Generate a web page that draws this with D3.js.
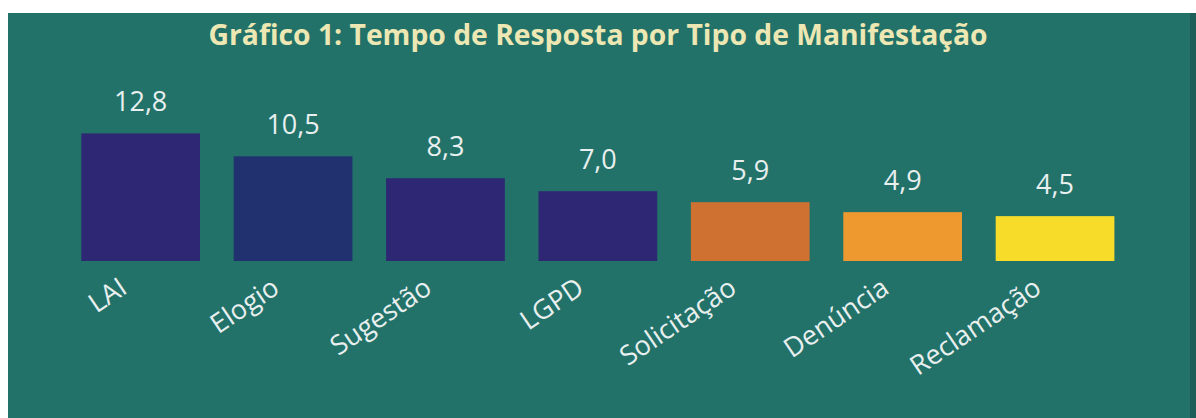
<!DOCTYPE html>
<html>
<head>
<meta charset="utf-8">
<script src="https://cdn.jsdelivr.net/npm/d3@7/dist/d3.min.js"></script>
<style>
  html, body { margin: 0; padding: 0; background: #ffffff; }
  svg { display: block; }
</style>
</head>
<body>
<svg id="chart" width="1196" height="418"></svg>
<script>
const title = "Gráfico 1: Tempo de Resposta por Tipo de Manifestação";
const categories = ["LAI", "Elogio", "Sugestão", "LGPD", "Solicitação", "Denúncia", "Reclamação"];
const values = [12.8, 10.5, 8.3, 7.0, 5.9, 4.9, 4.5];
const barColors = ["#2E2774", "#21306F", "#2E2774", "#2E2774", "#CF7130", "#EE9830", "#F7DD2A"];

const W = 1196, H = 418;
const svg = d3.select("#chart");

// panel background
svg.append("rect").attr("x", 8).attr("y", 13).attr("width", 1182).attr("height", H - 13).attr("fill", "#22726A");
svg.append("rect").attr("x", 1190).attr("y", 13).attr("width", 6).attr("height", H - 13).attr("fill", "#1D5F58");

// title
svg.append("text")
  .attr("x", 598).attr("y", 45)
  .attr("text-anchor", "middle")
  .attr("font-family", "'Open Sans', 'Noto Sans', sans-serif")
  .attr("font-weight", "bold")
  .attr("font-size", 28.3)
  .attr("fill", "#EDE7B3")
  .text(title);

const x = d3.scaleBand().domain(categories).range([81.3, 1114.4]).paddingInner(0.221).paddingOuter(0);
const y = d3.scaleLinear().domain([0, 12.8]).range([261, 133.4]);
const color = d3.scaleOrdinal().domain(categories).range(barColors);

const data = categories.map((c, i) => ({ cat: c, val: values[i] }));
const fmt = v => d3.format(".1f")(v).replace(".", ",");

svg.append("g").selectAll("rect").data(data).join("rect")
  .attr("x", d => x(d.cat))
  .attr("y", d => y(d.val))
  .attr("width", x.bandwidth())
  .attr("height", d => y(0) - y(d.val))
  .attr("fill", d => color(d.cat));

svg.append("g").selectAll("text").data(data).join("text")
  .attr("x", d => x(d.cat) + x.bandwidth() / 2)
  .attr("y", d => y(d.val) - 22)
  .attr("text-anchor", "middle")
  .attr("font-family", "'Open Sans', 'Noto Sans', sans-serif")
  .attr("font-size", 27)
  .attr("fill", "#E8EFEE")
  .text(d => fmt(d.val));

// x axis labels (rotated)
const xAxis = d3.axisBottom(x).tickSize(0).tickPadding(0);
const gx = svg.append("g").attr("transform", `translate(0, ${y(0)})`).call(xAxis);
gx.select(".domain").remove();
gx.selectAll(".tick text")
  .attr("font-family", "'Open Sans', 'Noto Sans', sans-serif")
  .attr("font-size", 27)
  .attr("fill", "#E8EFEE")
  .attr("text-anchor", "end")
  .attr("dy", null)
  .attr("y", 0)
  .attr("transform", "translate(-12, 31) rotate(-34)");
</script>
</body>
</html>
